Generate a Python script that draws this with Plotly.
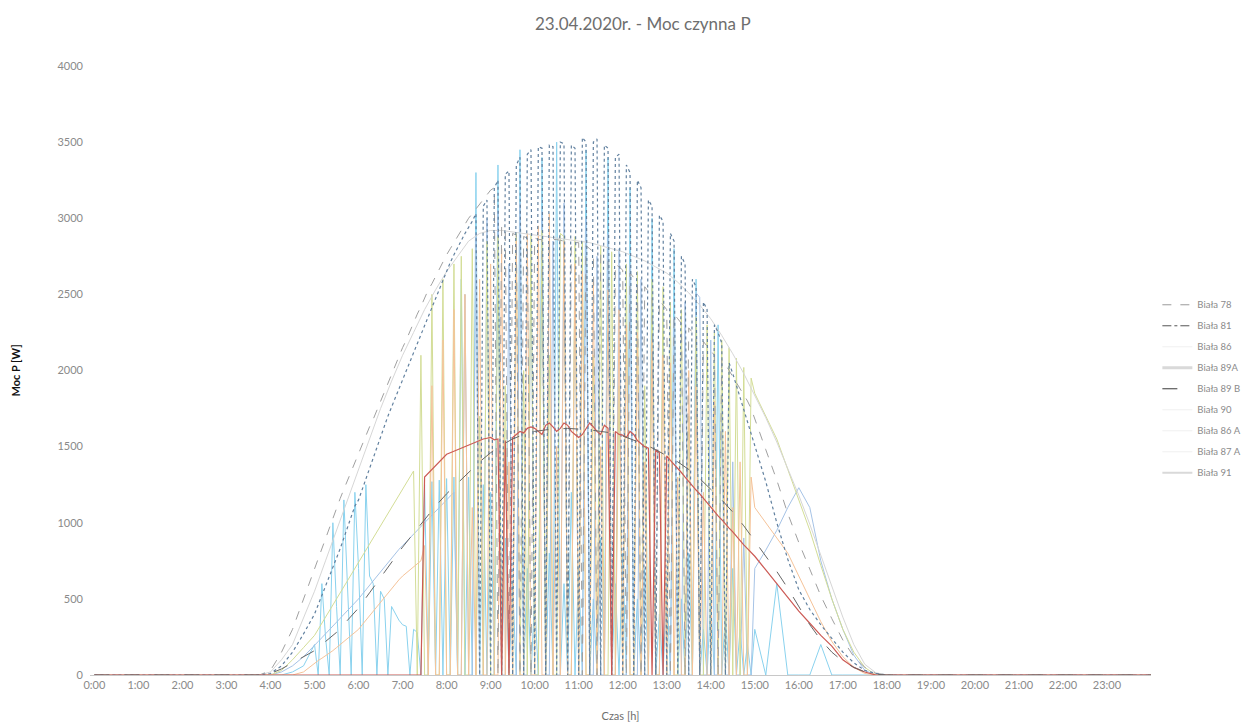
import plotly.graph_objects as go

# ---------------- DATA ----------------
def hhmm(s):
    h, m = s.split(":")
    return int(h) + int(m) / 60.0

def grid(start, end, step_min):
    out = []
    t = hhmm(start) * 60
    e = hhmm(end) * 60
    while t <= e + 1e-9:
        out.append(t / 60.0)
        t += step_min
    return out

night_times = ["0:00", "24:00"]
# spiky series: 15-min early, 5-min during the day, 15-min late
t_spiky = grid("3:30", "4:45", 15) + grid("5:00", "14:55", 5) + grid("15:00", "18:00", 15)
# smooth series: 15-min grid
t_smooth = grid("3:30", "18:00", 15)

series_names = ["Biała 78", "Biała 81", "Biała 86", "Biała 89A", "Biała 89 B",
                "Biała 90", "Biała 86 A", "Biała 87 A", "Biała 91"]

b78 = [0, 0, 30, 150, 300, 500,
       700, 770, 830, 900, 970, 1030, 1100, 1160, 1220, 1280, 1330, 1390,
       1450, 1510, 1570, 1630, 1680, 1740, 1800, 1860, 1920, 1980, 2030, 2090,
       2150, 2200, 2260, 2310, 2370, 2420, 2480, 2530, 2570, 2620, 2670, 2710,
       2760, 2800, 2840, 2880, 2920, 2960, 3000, 3030, 3060, 3090, 3120, 3150,
       3185, 3200, 0, 2950, 2930, 0, 2900, 2890, 0, 2880, 2870, 0,
       2870, 2860, 2860, 0, 2860, 2860, 2860, 2855, 2850, 0, 2850, 2840,
       2840, 0, 2820, 2800, 2780, 0, 2760, 2740, 2720, 0, 2700, 2680,
       2660, 0, 2640, 2610, 2580, 0, 2550, 2520, 2490, 0, 2460, 2430,
       2400, 0, 2370, 2340, 2310, 0, 2280, 2250, 2220, 0, 2190, 2160,
       2130, 2100, 0, 2070, 2040, 2000, 1960, 1920, 1880, 1840, 1800, 1750,
       1680, 1480, 1280, 1060, 870, 690, 520, 370, 230, 120, 50, 10, 0]

b81 = [0, 0, 10, 60, 150, 270,
       400, 460, 520, 580, 640, 700, 760, 830, 900, 970, 1040, 1110,
       1150, 1220, 1290, 1360, 1430, 1500, 1570, 1640, 1700, 1760, 1820, 1880,
       1940, 2000, 2060, 2120, 2180, 2240, 2300, 2360, 2420, 2480, 2540, 2600,
       2660, 2710, 2760, 2810, 2860, 2900, 2940, 2980, 3030, 0, 3080, 3120,
       0, 3200, 3250, 0, 3290, 3310, 0, 3350, 3400, 0, 3420, 3450,
       0, 3470, 3460, 0, 3480, 3470, 0, 3500, 3490, 0, 3480, 3460,
       0, 3530, 3500, 0, 3500, 3520, 0, 3480, 3460, 0, 3400, 3420,
       0, 3350, 3300, 0, 3250, 3200, 0, 3120, 3080, 0, 3020, 2980,
       0, 2900, 2850, 0, 2750, 2700, 0, 2600, 2550, 0, 2450, 2400,
       0, 2300, 2250, 2180, 0, 2050, 1980, 1900, 1820, 1740, 1660, 1580,
       1500, 1270, 1000, 760, 560, 430, 330, 240, 150, 80, 30, 10, 0]

b86 = [0, 0, 0, 0, 20, 60,
       200, 0, 600, 250, 0, 1000, 450, 0, 1150, 600, 0, 1200,
       700, 0, 1250, 650, 600, 0, 550, 500, 0, 450, 400, 360,
       330, 320, 0, 300, 280, 0, 1250, 0, 1270, 0, 1280, 0,
       1290, 0, 1300, 0, 2600, 0, 1300, 0, 3300, 0, 1250, 0,
       1200, 0, 3350, 0, 900, 0, 600, 0, 3450, 0, 700, 0,
       500, 0, 3400, 0, 800, 0, 3500, 0, 600, 0, 1200, 0,
       700, 0, 3450, 0, 500, 0, 900, 0, 3400, 0, 600, 0,
       800, 0, 3200, 0, 500, 0, 700, 0, 3000, 0, 400, 0,
       600, 0, 2800, 0, 500, 0, 800, 0, 2600, 0, 300, 0,
       500, 0, 2300, 0, 400, 0, 700, 0, 300, 0, 200, 0,
       300, 0, 600, 0, 0, 0, 200, 0, 0, 0, 0, 0, 0]

b89a = [0, 0, 0, 30, 100, 180,
        260, 300, 340, 380, 420, 460, 500, 540, 580, 620, 660, 700,
        740, 780, 820, 860, 900, 940, 980, 1020, 1060, 1100, 1140, 1180,
        1220, 1260, 1300, 1340, 0, 2100, 0, 0, 2500, 0, 0, 2600,
        0, 0, 2700, 0, 2750, 0, 0, 2800, 0, 1700, 0, 2850,
        0, 0, 2880, 0, 1900, 0, 0, 2900, 0, 2000, 0, 2900,
        0, 0, 2920, 0, 2100, 0, 0, 2900, 2880, 0, 0, 2880,
        0, 2850, 0, 0, 2100, 0, 2820, 0, 0, 2780, 0, 1900,
        0, 2700, 0, 0, 2650, 0, 1900, 0, 2600, 0, 0, 2550,
        0, 2450, 0, 0, 2400, 0, 1700, 0, 2350, 0, 0, 2300,
        0, 2250, 0, 2200, 0, 2150, 0, 2080, 0, 2020, 0, 1950,
        1850, 1700, 1550, 1350, 1150, 950, 720, 500, 300, 150, 50, 0, 0]

b90 = [0, 0, 0, 20, 60, 120,
       200, 220, 245, 270, 295, 320, 345, 370, 395, 420, 445, 470,
       500, 530, 560, 590, 620, 650, 680, 710, 740, 770, 800, 825,
       850, 875, 900, 925, 950, 975, 1000, 1025, 1050, 1075, 1100, 1125,
       1150, 1175, 1200, 0, 0, 2500, 0, 0, 2900, 0, 0, 3000,
       0, 0, 3050, 0, 0, 2700, 0, 0, 3100, 0, 0, 2800,
       0, 0, 3050, 0, 0, 2850, 0, 0, 3100, 0, 0, 2650,
       0, 0, 3000, 0, 0, 2750, 0, 0, 2900, 0, 0, 2800,
       0, 0, 2700, 0, 0, 2600, 0, 0, 2550, 0, 0, 2400,
       0, 0, 2350, 0, 0, 2450, 0, 0, 2510, 2480, 0, 0,
       2200, 0, 0, 1800, 0, 0, 1400, 0, 0, 900, 0, 0,
       700, 820, 950, 1100, 1230, 1100, 750, 500, 300, 130, 30, 0, 0]

b86a = [0, 0, 0, 0, 0, 0,
        0, 0, 0, 0, 0, 0, 0, 0, 0, 0, 0, 0,
        0, 0, 0, 0, 0, 0, 0, 0, 0, 0, 0, 0,
        0, 0, 0, 0, 0, 0, 1300, 1325, 1350, 1375, 1400, 1425,
        1450, 1460, 1470, 1480, 1490, 1500, 1510, 1520, 1530, 1540, 1550, 1555,
        1560, 1545, 1550, 0, 1540, 0, 1560, 1580, 1600, 1590, 1620, 1630,
        1620, 1600, 1580, 1640, 1655, 1630, 1600, 1620, 1655, 1640, 1600, 1580,
        1560, 1580, 1620, 1655, 1630, 1600, 1580, 1640, 1620, 0, 1600, 1580,
        1576, 1560, 1600, 1580, 1540, 1520, 1500, 1490, 0, 1480, 1460, 0,
        1440, 1410, 1385, 1355, 1330, 1300, 1270, 1245, 1215, 1190, 1160, 1130,
        1100, 1075, 1045, 1020, 990, 965, 940, 910, 885, 855, 830, 805,
        780, 690, 600, 510, 420, 340, 260, 190, 100, 50, 20, 0, 0]

b87a = [0, 0, 0, 0, 0, 20,
        80, 95, 110, 125, 140, 160, 180, 200, 220, 240, 260, 280,
        300, 330, 360, 390, 420, 450, 480, 510, 540, 570, 600, 625,
        650, 670, 690, 710, 730, 750, 850, 0, 1900, 0, 0, 2200,
        0, 0, 2400, 0, 0, 2500, 0, 1100, 0, 2600, 0, 0,
        2700, 0, 0, 2800, 0, 1400, 0, 2850, 0, 0, 2900, 0,
        0, 2950, 0, 0, 3030, 0, 1500, 0, 2850, 0, 0, 2700,
        0, 2650, 0, 0, 2600, 0, 1500, 0, 2530, 0, 0, 2400,
        0, 2300, 0, 0, 2250, 0, 1400, 0, 2200, 0, 0, 2100,
        0, 2050, 0, 1300, 0, 0, 2000, 0, 1900, 0, 1200, 0,
        0, 1800, 0, 0, 1600, 0, 1100, 0, 1400, 0, 0, 1300,
        1100, 1000, 900, 800, 650, 500, 350, 220, 120, 50, 10, 0, 0]

b89b = [0, 0, 10, 40, 80, 120, 160, 220, 280, 360, 440, 540, 640, 740, 840, 930,
        1020, 1110, 1190, 1260, 1330, 1400, 1460, 1510, 1550, 1580, 1600, 1610, 1615, 1620,
        1615, 1610, 1600, 1590, 1570, 1545, 1515, 1480, 1440, 1400, 1350, 1290, 1220, 1150,
        1070, 980, 880, 780, 680, 570, 450, 330, 230, 150, 90, 50, 20, 5, 0]

b91 = [0, 0, 20, 100, 200, 370, 550, 750, 950, 1150, 1350, 1550, 1750, 1930, 2100, 2250,
       2400, 2530, 2650, 2750, 2850, 2900, 2920, 2920, 2910, 2900, 2890, 2880, 2870, 2860,
       2850, 2840, 2820, 2800, 2780, 2750, 2720, 2680, 2640, 2580, 2510, 2430, 2340, 2230,
       2110, 1980, 1840, 1690, 1530, 1360, 1180, 990, 790, 590, 380, 200, 70, 15, 0]

y_ticks = [0, 500, 1000, 1500, 2000, 2500, 3000, 3500, 4000]
x_tick_labels = ["%d:00" % h for h in range(24)]

# ---------------- STYLE ----------------
series = [
    # name, times, values, plot colour, dash, width, legend colour, legend dash, legend width
    ("Biała 86", t_spiky, b86, "#8ad2ee", "solid", 1, "#f0f0f0", "solid", 1),
    ("Biała 90", t_spiky, b90, "#a6c3e6", "solid", 1, "#f0f0f0", "solid", 1),
    ("Biała 89A", t_spiky, b89a, "#d3dd96", "solid", 1, "#d9d9d9", "solid", 3),
    ("Biała 87 A", t_spiky, b87a, "#f5c399", "solid", 1, "#f0f0f0", "solid", 1),
    ("Biała 91", t_smooth, b91, "#d6d6d6", "solid", 1, "#d9d9d9", "solid", 2),
    ("Biała 78", t_spiky, b78, "#a0a0a0", "dash", 1, "#9a9a9a", "dash", 1),
    ("Biała 81", t_spiky, b81, "#61809f", "dot", 1.2, "#555555", "dashdot", 1),
    ("Biała 86 A", t_spiky, b86a, "#cc5a55", "solid", 1.2, "#f0f0f0", "solid", 1),
    ("Biała 89 B", t_smooth, b89b, "#666666", "longdash", 1, "#3a3a3a", "longdash", 1),
]

night = [hhmm(s) for s in night_times]

fig = go.Figure()
for name, tt, vv, col, dash, w, lcol, ldash, lw in series:
    if len(tt) != len(vv):
        raise ValueError("length mismatch %s: %d vs %d" % (name, len(tt), len(vv)))
    x = [night[0]] + list(tt) + [night[1]]
    y = [0] + list(vv) + [0]
    fig.add_trace(go.Scatter(x=x, y=y, mode="lines", name=name, legendgroup=name,
                             showlegend=False,
                             line=dict(color=col, width=w, dash=dash)))

# legend entries in the reference order
legend_style = {s[0]: s for s in series}
for name in series_names:
    s = legend_style[name]
    fig.add_trace(go.Scatter(x=[None], y=[None], mode="lines", name=name, legendgroup=name,
                             showlegend=True, hoverinfo="skip",
                             line=dict(color=s[6], width=s[8], dash=s[7])))

FONT = "Lato, 'Open Sans', sans-serif"
fig.update_layout(
    width=1244, height=728,
    paper_bgcolor="white", plot_bgcolor="white",
    margin=dict(l=90, r=93, t=66, b=53, autoexpand=False),
    font=dict(family=FONT, color="#808080", size=11),
    title=dict(text="23.04.2020r. - Moc czynna P", x=0.521, xref="paper", xanchor="center",
               y=1 - 24 / 728, yanchor="middle", font=dict(size=17, color="#6e6e6e", family=FONT)),
    legend=dict(x=1.006, xanchor="left", y=0.47, yanchor="middle", font=dict(size=9.5, color="#8a8a8a"),
                tracegroupgap=2, bgcolor="rgba(0,0,0,0)", itemwidth=30, borderwidth=0),
    showlegend=True,
)
fig.update_xaxes(range=[-0.1, 24.0], tickmode="array", tickvals=list(range(24)), ticktext=x_tick_labels,
                 showgrid=False, zeroline=False, showline=True, linecolor="#c8c8c8", linewidth=1,
                 ticks="", tickfont=dict(size=11, color="#8a8a8a"), automargin=False,
                 title=dict(text="Czas [h]", standoff=22, font=dict(size=11, color="#6e6e6e")))
fig.update_yaxes(range=[0, 4000], tickmode="array", tickvals=y_ticks, automargin=False,
                 showgrid=False, zeroline=False, showline=False, ticks="",
                 tickfont=dict(size=11, color="#8a8a8a"), ticklabelstandoff=6,
                 title=dict(text="<b>Moc P [W]</b>", standoff=34, font=dict(size=11, color="#111111")))

fig.write_html("out.html")
